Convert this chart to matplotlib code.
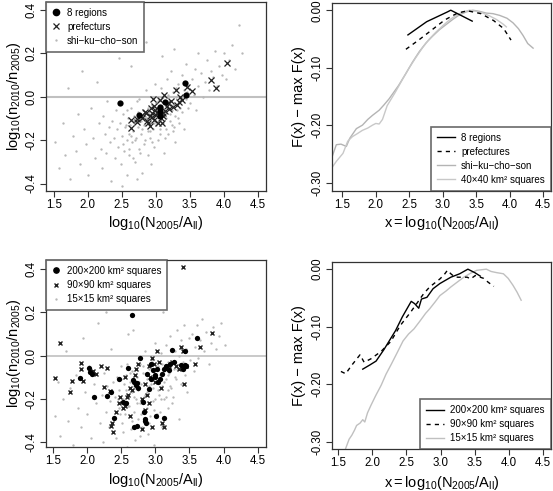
import matplotlib
matplotlib.use("Agg")
import matplotlib.pyplot as plt
from matplotlib.lines import Line2D

plt.rcParams['font.family'] = ['Liberation Sans', 'DejaVu Sans']
plt.rcParams['mathtext.fontset'] = 'custom'
plt.rcParams['mathtext.rm'] = 'Liberation Sans'
plt.rcParams['mathtext.it'] = 'Liberation Sans'

# ---- top-left: 8 regions / prefectures / shi-ku-cho-son ----
reg_x = [2.48, 2.76, 3.07, 3.07, 3.07, 3.13, 3.43, 3.44]
reg_y = [-0.031, -0.083, -0.045, -0.065, -0.088, -0.022, 0.063, 0.010]

pref_x = [2.64, 2.64, 2.72, 2.72, 2.80, 2.86, 2.87, 2.91, 2.92, 2.93, 2.94, 2.96,
          2.97, 2.98, 2.99, 3.02, 3.03, 3.06, 3.09, 3.11, 3.11, 3.12, 3.16, 3.19,
          3.22, 3.25, 3.30, 3.36, 3.35, 3.39, 3.46, 3.53, 3.82, 3.89, 4.05, 2.95,
          3.00, 3.05, 3.08, 2.89, 3.14, 3.18, 2.78, 3.32, 2.84]
pref_y = [-0.106, -0.144, -0.118, -0.103, -0.098, -0.075, -0.113, -0.090, -0.133,
          -0.052, -0.075, -0.011, -0.041, -0.106, -0.060, -0.075, -0.121, -0.014,
          -0.121, -0.090, -0.075, 0.009, -0.044, -0.057, -0.021, -0.048, 0.029,
          -0.002, -0.026, -0.014, 0.043, 0.028, 0.075, 0.040, 0.155, -0.095,
          -0.085, -0.060, -0.100, -0.120, -0.065, -0.030, -0.090, -0.040, -0.070]

muni_x = [1.52, 1.58, 1.63, 1.67, 1.71, 1.74, 1.78, 1.82, 1.85, 1.88, 1.91, 1.94,
          1.97, 2.01, 2.04, 2.07, 2.10, 2.13, 2.16, 2.19,
          2.21, 2.23, 2.25, 2.27, 2.29, 2.31, 2.33, 2.34, 2.36, 2.38, 2.40, 2.41,
          2.43, 2.45, 2.46, 2.48, 2.49, 2.51, 2.52, 2.54, 2.55, 2.57, 2.58, 2.59,
          2.60, 2.30, 2.50,
          2.61, 2.62, 2.64, 2.65, 2.66, 2.68, 2.69, 2.70, 2.71, 2.73, 2.74, 2.75,
          2.77, 2.78, 2.79, 2.80, 2.82, 2.83, 2.84, 2.85, 2.87, 2.88, 2.89, 2.90,
          2.91, 2.92, 2.94, 2.95, 2.96, 2.97, 2.98, 2.99, 2.63, 2.86, 2.72, 2.93,
          3.01, 3.02, 3.03, 3.05, 3.06, 3.07, 3.08, 3.10, 3.11, 3.12, 3.13, 3.15,
          3.16, 3.17, 3.18, 3.20, 3.21, 3.22, 3.24, 3.25, 3.26, 3.28, 3.29, 3.30,
          3.32, 3.33, 3.35, 3.36, 3.38, 3.39, 3.41, 3.42, 3.44, 3.45, 3.47, 3.48,
          3.09, 3.27,
          3.51, 3.53, 3.56, 3.58, 3.60, 3.63, 3.66, 3.69, 3.72, 3.75, 3.78, 3.81,
          3.84, 3.87, 3.90, 3.93, 3.97, 4.00, 4.04, 4.08, 4.12, 4.17, 4.22, 4.27,
          3.62,
          2.52, 2.56, 2.60, 2.63, 2.67, 2.70, 2.74, 2.77, 2.80, 2.83, 2.86, 2.89,
          2.92, 2.95, 2.98, 3.00, 3.03, 3.06, 3.09, 3.12, 3.15, 3.18, 3.21, 3.24,
          3.27, 3.30, 3.33, 3.36, 3.39, 3.42, 2.58, 2.66, 2.76, 2.84, 2.94, 3.04,
          3.14, 3.26, 3.37, 3.46]
muni_y = [-0.21, -0.33, -0.12, -0.27, 0.04, -0.38, -0.18, -0.25, -0.08, -0.31, 0.12,
          -0.15, -0.22, -0.36, -0.05, -0.19, -0.28, 0.07, -0.12, -0.24,
          -0.33, -0.09, -0.17, -0.26, -0.02, -0.14, -0.21, -0.39, -0.11, -0.19,
          -0.28, -0.06, -0.15, -0.23, 0.18, -0.12, -0.31, -0.18, -0.08, -0.25,
          -0.14, -0.20, -0.36, -0.10, -0.17, 0.22, -0.41,
          -0.27, -0.13, -0.05, -0.21, -0.16, -0.09, -0.30, -0.12, -0.19, -0.02,
          -0.14, -0.24, -0.08, -0.17, -0.11, -0.35, -0.06, -0.13, -0.20, 0.03,
          -0.10, -0.16, -0.27, -0.07, -0.12, -0.19, -0.04, -0.10, -0.15, -0.23,
          -0.08, 0.06, 0.14, 0.25, -0.38, -0.31,
          -0.13, -0.06, -0.20, -0.01, -0.09, -0.15, 0.04, -0.07, -0.12, -0.26,
          -0.03, -0.10, 0.08, -0.05, -0.17, -0.02, -0.08, 0.12, -0.13, -0.04,
          0.02, -0.09, -0.21, 0.00, -0.06, 0.06, -0.12, -0.02, 0.10, -0.07, 0.03,
          -0.15, -0.01, 0.15, -0.05, 0.05, 0.19, 0.22,
          -0.03, 0.08, 0.01, 0.13, -0.06, 0.05, 0.11, 0.00, 0.07, 0.17, 0.03,
          0.12, 0.09, 0.21, 0.05, 0.14, 0.10, 0.20, 0.08, 0.17, 0.24, 0.13, 0.33,
          0.20, 0.20,
          -0.22, -0.13, -0.24, -0.18, -0.11, -0.20, -0.07, -0.26, -0.15, -0.22,
          -0.10, -0.05, -0.16, -0.21, -0.12, -0.03, -0.10, -0.17, -0.05, -0.09,
          -0.15, 0.01, -0.11, -0.06, -0.14, 0.04, -0.10, -0.05, -0.01, 0.07,
          -0.06, -0.28, -0.01, -0.09, -0.08, -0.02, -0.19, -0.16, 0.00, 0.02]

# ---- top-right: F(x) - max F(x) ----
f_reg_x = [2.48, 2.76, 3.07, 3.12, 3.44]
f_reg_y = [-0.043, -0.020, -0.003, 0.000, -0.019]
f_pref_x = [2.45, 2.64, 2.83, 3.03, 3.22, 3.37, 3.57, 3.76, 3.91, 4.02]
f_pref_y = [-0.068, -0.052, -0.035, -0.017, -0.005, -0.001, -0.006, -0.018, -0.032, -0.052]
f_muni_x = [1.35, 1.41, 1.48, 1.56, 1.61, 1.71, 1.80, 1.88, 1.95, 2.05, 2.12, 2.20,
            2.34, 2.45, 2.55, 2.65, 2.75, 2.85, 2.95, 3.05, 3.15, 3.25, 3.35, 3.45,
            3.55, 3.65, 3.75, 3.85, 3.96, 4.05, 4.13, 4.20, 4.27, 4.35]
f_muni_y = [-0.254, -0.234, -0.233, -0.237, -0.223, -0.206, -0.200, -0.190, -0.183,
            -0.174, -0.165, -0.154, -0.131, -0.110, -0.090, -0.072, -0.057, -0.045,
            -0.034, -0.025, -0.016, -0.008, -0.003, 0.000, -0.002, -0.005, -0.006,
            -0.009, -0.014, -0.022, -0.032, -0.044, -0.058, -0.066]
f_sq40_x = [1.35, 1.41, 1.51, 1.58, 1.65, 1.72, 1.80, 1.88, 1.95, 2.00, 2.05, 2.10,
            2.17, 2.29, 2.40, 2.50, 2.60, 2.70, 2.80, 2.90, 3.00, 3.10, 3.20, 3.30,
            3.40, 3.50, 3.60, 3.70, 3.80, 3.90, 3.95]
f_sq40_y = [-0.273, -0.263, -0.249, -0.228, -0.220, -0.215, -0.209, -0.205, -0.200,
            -0.197, -0.198, -0.190, -0.166, -0.143, -0.120, -0.100, -0.082, -0.065,
            -0.050, -0.038, -0.027, -0.017, -0.009, -0.003, 0.000, -0.002, -0.005,
            -0.010, -0.016, -0.024, -0.029]

# ---- bottom-left: squares ----
sq200_x = [2.03, 2.04, 2.07, 1.89, 2.09, 2.29, 2.35, 2.39, 2.46, 2.59, 2.53, 2.56,
           2.65, 2.67, 2.68, 2.71, 2.73, 2.77, 2.74, 2.69, 2.73, 2.82, 2.83, 2.84,
           2.84, 2.86, 2.88, 2.90, 2.93, 2.94, 2.97, 2.99, 3.01, 3.02, 3.04, 3.07,
           3.10, 3.12, 3.15, 3.20, 3.22, 3.25, 3.27, 3.12, 3.37, 3.41, 3.43, 3.44,
           3.61, 3.45, 3.00]
sq200_y = [-0.056, -0.076, -0.085, -0.102, -0.193, -0.185, -0.170, -0.289, -0.108,
           -0.056, -0.215, -0.219, 0.187, -0.113, -0.120, -0.137, -0.125, -0.011,
           -0.150, -0.329, -0.323, -0.215, -0.258, -0.292, -0.303, -0.312, -0.086,
           -0.156, -0.040, -0.110, -0.068, -0.091, -0.280, -0.063, -0.122, -0.107,
           -0.083, -0.063, -0.048, -0.068, -0.040, 0.025, -0.029, -0.289, -0.045,
           -0.063, 0.022, -0.042, 0.079, -0.050, -0.099]

sq90_x = [1.52, 1.59, 1.75, 1.78, 1.90, 1.90, 1.93, 2.08, 2.12, 2.20, 2.25, 2.29,
          2.33, 2.35, 2.36, 2.38, 2.42, 2.46, 2.48, 2.52, 2.55, 2.55, 2.58, 2.60,
          2.62, 2.63, 2.65, 2.72, 2.75, 2.80, 2.80, 2.85, 2.85, 2.88, 2.90, 2.92,
          2.95, 2.95, 2.98, 3.02, 3.05, 3.08, 3.10, 3.12, 3.15, 3.20, 3.25, 3.30,
          3.38, 3.40, 3.42, 3.45, 3.58, 3.65, 3.83, 2.90, 3.00, 2.70, 3.35, 3.40]
sq90_y = [-0.102, 0.060, -0.170, -0.115, -0.035, -0.060, -0.115, -0.070, -0.085,
          -0.050, -0.145, -0.055, -0.165, -0.325, -0.310, -0.350, -0.260, -0.220,
          -0.190, -0.240, -0.100, -0.230, -0.190, -0.180, -0.280, -0.150, -0.160,
          -0.060, -0.040, -0.340, -0.200, -0.250, -0.130, -0.180, -0.050, -0.100,
          -0.330, -0.010, -0.040, 0.020, -0.030, -0.150, -0.310, -0.330, -0.060,
          -0.050, -0.030, -0.050, 0.040, 0.410, -0.130, -0.050, -0.040, 0.040,
          0.105, -0.220, -0.120, -0.090, -0.060, 0.020]

sq15_x = [1.53, 1.57, 1.60, 1.64, 1.68, 1.72, 1.75, 1.79, 1.83, 1.86, 1.90, 1.93,
          1.96, 2.00, 2.03, 2.06, 2.09, 2.12, 2.15, 2.18,
          2.21, 2.23, 2.25, 2.27, 2.29, 2.31, 2.33, 2.35, 2.37, 2.39, 2.41, 2.42,
          2.44, 2.46, 2.47, 2.49, 2.51, 2.52, 2.54, 2.55, 2.57, 2.58, 2.59, 2.60,
          2.28,
          2.61, 2.62, 2.64, 2.65, 2.66, 2.68, 2.69, 2.70, 2.71, 2.73, 2.74, 2.75,
          2.77, 2.78, 2.79, 2.80, 2.82, 2.83, 2.84, 2.85, 2.87, 2.88, 2.89, 2.90,
          2.91, 2.92, 2.94, 2.95, 2.96, 2.97, 2.98, 2.99, 2.67, 2.86,
          3.01, 3.02, 3.04, 3.05, 3.06, 3.08, 3.09, 3.10, 3.12, 3.13, 3.15, 3.16,
          3.18, 3.19, 3.20, 3.22, 3.23, 3.25, 3.26, 3.28, 3.29, 3.31, 3.32, 3.34,
          3.35, 3.37, 3.38, 3.40, 3.42, 3.43, 3.45, 3.47, 3.49, 3.11,
          3.51, 3.53, 3.56, 3.58, 3.61, 3.63, 3.66, 3.69, 3.72, 3.75, 3.78, 3.81,
          3.85, 3.89, 3.93, 3.97, 4.02,
          2.45, 2.50, 2.53, 2.56, 2.60, 2.63, 2.66, 2.70, 2.73, 2.76, 2.79, 2.82,
          2.85, 2.88, 2.91, 2.94, 2.97, 3.00, 3.03, 3.06, 3.09, 3.12, 3.15, 3.18,
          3.21, 3.24, 3.27, 3.30, 2.48, 2.58, 2.68, 2.78, 2.88, 2.98, 3.08, 3.18]
sq15_y = [-0.28, -0.12, -0.37, -0.20, 0.02, -0.30, -0.15, -0.41, -0.09, -0.24,
          -0.33, 0.08, -0.17, -0.27, -0.05, -0.38, -0.13, -0.22, 0.15, -0.31,
          -0.18, -0.40, -0.08, -0.26, -0.14, -0.33, -0.21, 0.03, -0.12, -0.29,
          -0.19, -0.38, -0.10, -0.24, -0.16, -0.05, -0.31, -0.20, -0.13, -0.27,
          -0.09, -0.42, -0.18, 0.10, 0.20,
          -0.23, -0.12, -0.34, -0.17, -0.07, -0.26, -0.14, -0.39, -0.20, -0.10,
          -0.29, -0.16, -0.04, -0.22, -0.13, -0.33, -0.08, -0.19, -0.25, 0.02,
          -0.11, -0.17, -0.36, -0.06, -0.14, -0.28, -0.10, -0.02, -0.21, -0.15,
          -0.41, 0.06, 0.12, 0.30,
          -0.12, -0.27, -0.05, -0.18, -0.09, 0.01, -0.14, -0.33, -0.07, -0.20,
          0.05, -0.11, -0.03, -0.24, -0.08, 0.09, -0.15, -0.04, -0.19, 0.02,
          -0.10, 0.12, -0.06, -0.29, 0.00, -0.13, 0.07, -0.03, 0.14, -0.09, 0.03,
          -0.17, 0.08, 0.20,
          -0.02, 0.10, -0.07, 0.04, 0.14, -0.01, 0.07, 0.17, 0.02, 0.11, -0.04,
          0.06, 0.13, 0.03, 0.09, 0.15, 0.05,
          -0.20, -0.11, -0.35, -0.16, -0.23, -0.08, -0.30, -0.15, -0.22, -0.12,
          -0.27, -0.05, -0.18, -0.24, -0.31, -0.13, -0.07, -0.20, -0.16, -0.26,
          -0.04, -0.12, -0.19, -0.09, -0.14, -0.22, -0.06, -0.11, -0.27, -0.04,
          -0.19, -0.37, -0.09, -0.25, -0.20, -0.16]

# ---- bottom-right: F(x) - max F(x) for squares ----
g200_x = [1.86, 1.96, 2.055, 2.17, 2.34, 2.44, 2.57, 2.62, 2.68, 2.72, 2.80, 2.89,
          2.99, 3.15, 3.28, 3.40, 3.50, 3.58]
g200_y = [-0.174, -0.167, -0.160, -0.140, -0.107, -0.083, -0.056, -0.060, -0.068,
          -0.052, -0.049, -0.034, -0.025, -0.014, -0.008, 0.000, -0.006, -0.012]
g90_x = [1.54, 1.61, 1.70, 1.78, 1.82, 1.88, 1.98, 2.13, 2.27, 2.41, 2.56, 2.65,
         2.75, 2.84, 2.99, 3.05, 3.10, 3.15, 3.20, 3.25, 3.39, 3.44, 3.51, 3.63,
         3.70, 3.78]
g90_y = [-0.178, -0.182, -0.167, -0.155, -0.149, -0.162, -0.156, -0.143, -0.126,
         -0.098, -0.075, -0.060, -0.043, -0.031, -0.017, -0.010, -0.002, -0.008,
         -0.013, -0.014, -0.014, -0.017, -0.011, -0.016, -0.023, -0.030]
g15_x = [1.61, 1.66, 1.70, 1.74, 1.77, 1.82, 1.86, 1.89, 1.93, 1.98, 2.05, 2.13,
         2.20, 2.28, 2.37, 2.45, 2.53, 2.61, 2.70, 2.78, 2.84, 2.92, 2.99, 3.08,
         3.15, 3.25, 3.34, 3.44, 3.53, 3.60, 3.67, 3.74, 3.82, 3.92, 3.99, 4.06,
         4.12, 4.18]
g15_y = [-0.312, -0.296, -0.289, -0.280, -0.272, -0.268, -0.262, -0.266, -0.250,
         -0.237, -0.220, -0.202, -0.183, -0.165, -0.144, -0.125, -0.113, -0.104,
         -0.090, -0.077, -0.069, -0.057, -0.046, -0.038, -0.031, -0.022, -0.014,
         -0.007, -0.002, -0.001, 0.000, -0.004, -0.006, -0.008, -0.016, -0.028,
         -0.040, -0.054]

xticks = [1.5, 2.0, 2.5, 3.0, 3.5, 4.0, 4.5]
xlab = r'$\mathrm{log_{10}(N_{2005}/A_{ll})}$'
xlab_f = r'$\mathrm{x = log_{10}(N_{2005}/A_{ll})}$'
ylab = r'$\mathrm{log_{10}(n_{2010}/n_{2005})}$'
ylab_f = 'F(x) − max F(x)'

W, H = 553, 491
fig = plt.figure(figsize=(W / 100, H / 100), dpi=100)


def box(l, t, r, b):
    return [l / W, 1 - b / H, (r - l) / W, (b - t) / H]


def style(ax, yticks, yfmt):
    for s in ax.spines.values():
        s.set_color('#333333')
        s.set_linewidth(0.9)
    ax.set_xticks(xticks)
    ax.set_xticklabels([f'{t:.1f}' for t in xticks])
    ax.set_yticks(yticks)
    ax.set_yticklabels([yfmt.format(t) for t in yticks], rotation=90, va='center')
    ax.tick_params(direction='out', length=4, width=0.8, labelsize=8.3, pad=2,
                   color='#333333')


def leg(ax, handles, labels, loc, hl):
    lg = ax.legend(handles, labels, loc=loc, fontsize=7.0, frameon=True,
                   fancybox=False, borderaxespad=0, handlelength=hl,
                   handletextpad=0.6, borderpad=0.6, labelspacing=0.42)
    lg.get_frame().set_edgecolor('#444444')
    lg.get_frame().set_linewidth(1.2)


cloud = '#b8b8b8'

# top-left
ax1 = fig.add_axes(box(45.7, 1.7, 265.7, 190.7))
ax1.axhline(0, color='#c0c0c0', lw=1.5, zorder=1)
ax1.plot(muni_x, muni_y, ls='none', marker='o', ms=1.7, mew=0, color=cloud)
ax1.plot(pref_x, pref_y, ls='none', marker='x', ms=4.5, mew=0.9, color='#222222')
ax1.plot(reg_x, reg_y, ls='none', marker='o', ms=4.5, mew=0, color='black')
ax1.set_xlim(1.38, 4.62)
ax1.set_ylim(-0.433, 0.438)
style(ax1, [-0.4, -0.2, 0.0, 0.2, 0.4], '{:.1f}')
ax1.set_xlabel(xlab, fontsize=10.5, labelpad=2)
ax1.set_ylabel(ylab, fontsize=10.5, labelpad=2)
leg(ax1, [Line2D([], [], ls='none', marker='o', ms=4.5, color='black'),
          Line2D([], [], ls='none', marker='x', ms=4.5, mew=0.9, color='#222222'),
          Line2D([], [], ls='none', marker='o', ms=1.7, mew=0, color=cloud)],
    ['8 regions', 'prefecturs', 'shi−ku−cho−son'], 'upper left', 1.0)

# top-right
ax2 = fig.add_axes(box(332.3, 3.3, 550.5, 190.7))
ax2.plot(f_muni_x, f_muni_y, color='#b4b4b4', lw=1.0)
ax2.plot(f_sq40_x, f_sq40_y, color='#c8c8c8', lw=1.0)
ax2.plot(f_pref_x, f_pref_y, color='black', lw=1.0, ls=(0, (3, 3)))
ax2.plot(f_reg_x, f_reg_y, color='black', lw=1.0)
ax2.set_xlim(1.35, 4.61)
ax2.set_ylim(-0.314, 0.012)
style(ax2, [-0.30, -0.20, -0.10, 0.00], '{:.2f}')
ax2.set_xlabel(xlab_f, fontsize=10.5, labelpad=2)
ax2.set_ylabel(ylab_f, fontsize=10.5, labelpad=4)
leg(ax2, [Line2D([], [], color='black', lw=1.0),
          Line2D([], [], color='black', lw=1.0, ls=(0, (3, 3))),
          Line2D([], [], color='#b4b4b4', lw=1.0),
          Line2D([], [], color='#c8c8c8', lw=1.0)],
    ['8 regions', 'prefectures', 'shi−ku−cho−son', '40×40 km² squares'],
    'lower right', 1.9)

# bottom-left
ax3 = fig.add_axes(box(45.7, 260, 265.7, 446.7))
ax3.axhline(0, color='#c0c0c0', lw=1.2, zorder=1)
ax3.plot(sq15_x, sq15_y, ls='none', marker='o', ms=1.7, mew=0, color=cloud)
ax3.plot(sq90_x, sq90_y, ls='none', marker='x', ms=2.8, mew=1.0, color='#222222')
ax3.plot(sq200_x, sq200_y, ls='none', marker='o', ms=3.8, mew=0, color='black')
ax3.set_xlim(1.387, 4.62)
ax3.set_ylim(-0.42, 0.441)
style(ax3, [-0.4, -0.2, 0.0, 0.2, 0.4], '{:.1f}')
ax3.set_xlabel(xlab, fontsize=10.5, labelpad=3)
ax3.set_ylabel(ylab, fontsize=10.5, labelpad=2)
leg(ax3, [Line2D([], [], ls='none', marker='o', ms=3.8, color='black'),
          Line2D([], [], ls='none', marker='x', ms=2.8, mew=1.0, color='#222222'),
          Line2D([], [], ls='none', marker='o', ms=1.7, mew=0, color=cloud)],
    ['200×200 km² squares', '90×90 km² squares', '15×15 km² squares'],
    'upper left', 1.0)

# bottom-right
ax4 = fig.add_axes(box(332.3, 261.7, 550.5, 449))
ax4.plot(g15_x, g15_y, color='#c0c0c0', lw=1.0)
ax4.plot(g90_x, g90_y, color='black', lw=1.0, ls=(0, (3, 3)))
ax4.plot(g200_x, g200_y, color='black', lw=1.0)
ax4.set_xlim(1.414, 4.61)
ax4.set_ylim(-0.313, 0.013)
style(ax4, [-0.30, -0.20, -0.10, 0.00], '{:.2f}')
ax4.set_xlabel(xlab_f, fontsize=10.5, labelpad=3)
ax4.set_ylabel(ylab_f, fontsize=10.5, labelpad=4)
leg(ax4, [Line2D([], [], color='black', lw=1.0),
          Line2D([], [], color='black', lw=1.0, ls=(0, (3, 3))),
          Line2D([], [], color='#c0c0c0', lw=1.0)],
    ['200×200 km² squares', '90×90 km² squares', '15×15 km² squares'],
    'lower right', 1.9)

fig.savefig('out.png', dpi=100)
